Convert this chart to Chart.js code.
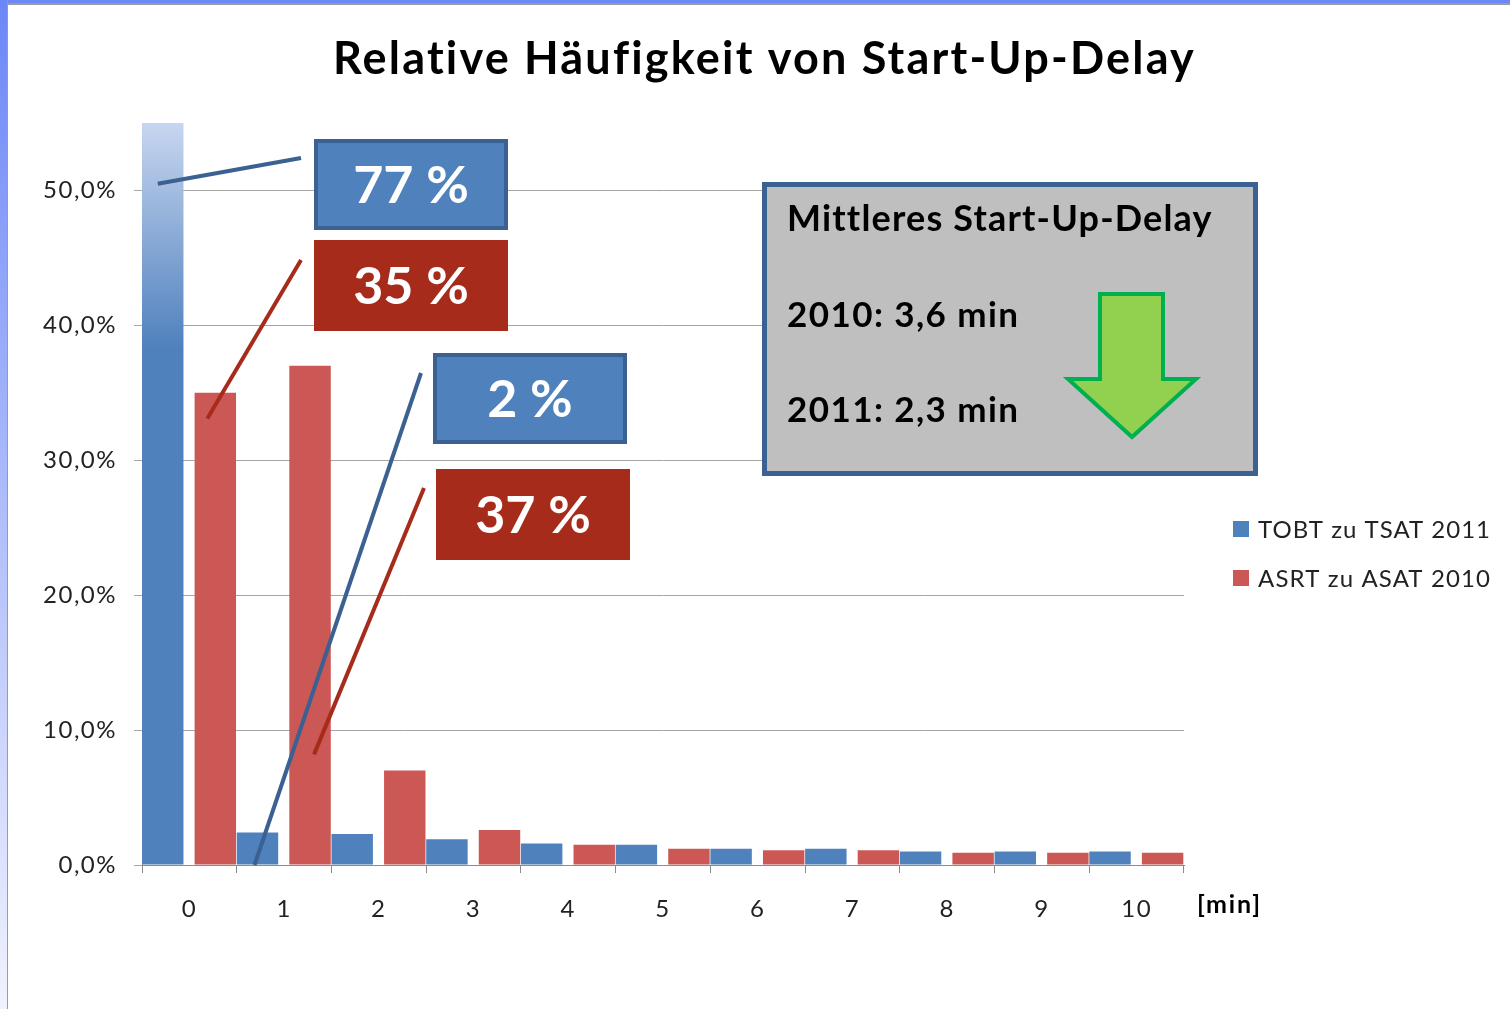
<!DOCTYPE html>
<html lang="de">
<head>
<meta charset="utf-8">
<title>Relative Häufigkeit von Start-Up-Delay</title>
<script src="https://cdn.jsdelivr.net/npm/chart.js@4.4.1/dist/chart.umd.min.js"></script>
<style>
  html, body { margin: 0; padding: 0; background: #fff; }
  #wrap { position: relative; width: 1510px; height: 1009px; overflow: hidden; background: #fff; }
  #frameTop { position: absolute; left: 0; top: 0; width: 1510px; height: 3px; background: #6c87f7; border-bottom: 2px solid #9c9c9c; z-index: 2; }
  #frameLeft { position: absolute; left: 0; top: 0; width: 7px; height: 1009px; background: linear-gradient(#6c87f7, #f0f2fe); border-right: 1px solid #9c9c9c; z-index: 2; }
  canvas { position: absolute; left: 0; top: 0; }
</style>
</head>
<body>
<div id="wrap">
  <div id="frameTop"></div>
  <div id="frameLeft"></div>
  <canvas id="delayChart" width="1510" height="1009"></canvas>
</div>
<script>
// Daten (Werte in %)
const minuten = ['0', '1', '2', '3', '4', '5', '6', '7', '8', '9', '10'];
const tobt2011 = [77, 2.4, 2.3, 1.9, 1.6, 1.5, 1.2, 1.2, 1.0, 1.0, 1.0];
const asrt2010 = [35, 37, 7.0, 2.6, 1.5, 1.2, 1.1, 1.1, 0.9, 0.9, 0.9];
const serienNamen = ['TOBT zu TSAT 2011', 'ASRT zu ASAT 2010'];
const yMax = 55;
const yStep = 10;
const mittelJahre = ['2010', '2011'];
const mittelWerte = ['3,6', '2,3'];

const blau = '#4f81bd';
const rot = '#cc5855';
const blauDunkel = '#3b6092';
const rotDunkel = '#a72b1b';
const schrift = 'Lato, "Open Sans", sans-serif';

// Balken 0 der blauen Serie ist abgeschnitten -> Verlauf nach oben heller
function blauFuellung(ctx) {
    if (ctx.dataIndex !== 0) return blau;
    const area = ctx.chart.chartArea;
    if (!area) return blau;
    const g = ctx.chart.ctx.createLinearGradient(0, area.top, 0, area.top + 225);
    g.addColorStop(0, '#c7d6f0');
    g.addColorStop(1, blau);
    return g;
}

// Text auf eine feste Breite bringen (Zeichenabstand anpassen)
function textMitBreite(ctx, text, x, y, breite) {
    ctx.letterSpacing = '0px';
    const w = ctx.measureText(text).width;
    ctx.letterSpacing = ((breite - w) / (text.length - 1)) + 'px';
    ctx.textAlign = 'left';
    ctx.fillText(text, x, y);
    ctx.letterSpacing = '0px';
}

// Balken wie im Original leicht versetzt (blau links, rot rechts)
const versatzPlugin = {
    id: 'versatz',
    afterDatasetsUpdate(chart) {
        const x = chart.scales.x;
        const breite = (x.right - x.left) / minuten.length;
        chart.getDatasetMeta(0).data.forEach(el => { el.x -= breite * 0.031; });
        chart.getDatasetMeta(1).data.forEach(el => { el.x += breite * 0.024; });
    },
    beforeDraw(chart) {
        // etwas breitere Achsenbeschriftung
        chart.ctx.letterSpacing = '1.5px';
    }
};

function box(ctx, x, y, w, h, fill, stroke, lw) {
    ctx.save();
    ctx.fillStyle = fill;
    ctx.fillRect(x, y, w, h);
    if (stroke) {
        ctx.strokeStyle = stroke;
        ctx.lineWidth = lw;
        ctx.strokeRect(x + lw / 2, y + lw / 2, w - lw, h - lw);
    }
    ctx.restore();
}

// Beschriftungen mit Linien zu den Balken
const callouts = [
    { ds: 0, i: 0, dx: -5, wert: 50.5, text: Math.round(tobt2011[0]) + ' %', fill: blau, rand: blauDunkel, rect: [314, 139, 194, 91], ende: [301, 158] },
    { ds: 1, i: 0, dx: -8, wert: 33.1, text: Math.round(asrt2010[0]) + ' %', fill: rotDunkel, rand: null, rect: [314, 240, 194, 91], ende: [301, 260] },
    { ds: 0, i: 1, dx: -3, wert: 0, text: Math.round(tobt2011[1]) + ' %', fill: blau, rand: blauDunkel, rect: [433, 353, 194, 91], ende: [421, 373] },
    { ds: 1, i: 1, dx: 4, wert: 8.2, text: Math.round(asrt2010[1]) + ' %', fill: rotDunkel, rand: null, rect: [436, 469, 194, 91], ende: [424, 488] }
];

const dekoPlugin = {
    id: 'deko',
    afterDatasetsDraw(chart) {
        const ctx = chart.ctx;
        const y = chart.scales.y;
        ctx.save();
        ctx.letterSpacing = '0px';

        callouts.forEach(c => {
            const bar = chart.getDatasetMeta(c.ds).data[c.i];
            ctx.save();
            ctx.strokeStyle = c.ds === 0 ? blauDunkel : rotDunkel;
            ctx.lineWidth = 4;
            ctx.beginPath();
            ctx.moveTo(bar.x + c.dx, y.getPixelForValue(c.wert));
            ctx.lineTo(c.ende[0], c.ende[1]);
            ctx.stroke();
            ctx.restore();

            const [bx, by, bw, bh] = c.rect;
            box(ctx, bx, by, bw, bh, c.fill, c.rand, 4);
            ctx.save();
            ctx.fillStyle = '#fff';
            ctx.font = 'bold 52px ' + schrift;
            ctx.textAlign = 'center';
            ctx.textBaseline = 'middle';
            ctx.fillText(c.text, bx + bw / 2, by + bh / 2 + 2);
            ctx.restore();
        });

        // Kasten mit mittlerem Delay
        box(ctx, 762, 182, 496, 294, '#bfbfbf', blauDunkel, 5);
        ctx.fillStyle = '#000';
        ctx.textBaseline = 'alphabetic';
        ctx.font = 'bold 36px ' + schrift;
        textMitBreite(ctx, 'Mittleres Start-Up-Delay', 787, 231, 423);
        ctx.font = 'bold 35px ' + schrift;
        mittelJahre.forEach((j, k) => {
            textMitBreite(ctx, j + ': ' + mittelWerte[k] + ' min', 787, 327 + k * 95, 231);
        });

        // gruener Pfeil nach unten
        ctx.beginPath();
        ctx.moveTo(1100, 294);
        ctx.lineTo(1163, 294);
        ctx.lineTo(1163, 379);
        ctx.lineTo(1196, 379);
        ctx.lineTo(1132, 437);
        ctx.lineTo(1068, 379);
        ctx.lineTo(1100, 379);
        ctx.closePath();
        ctx.fillStyle = '#92d050';
        ctx.fill();
        ctx.strokeStyle = '#00b050';
        ctx.lineWidth = 4;
        ctx.lineJoin = 'miter';
        ctx.stroke();
        ctx.restore();
    },
    afterDraw(chart) {
        const ctx = chart.ctx;
        ctx.save();
        ctx.fillStyle = '#000';

        // Titel
        ctx.textBaseline = 'alphabetic';
        ctx.font = 'bold 45px ' + schrift;
        textMitBreite(ctx, 'Relative Häufigkeit von Start-Up-Delay', 333, 74, 861);

        // Achsenbeschriftung
        ctx.font = 'bold 25px ' + schrift;
        textMitBreite(ctx, '[min]', 1197, 913, 63);

        // Legende
        const farben = [blau, rot];
        ctx.font = '24px ' + schrift;
        serienNamen.forEach((n, k) => {
            const ly = 529 + k * 49;
            ctx.fillStyle = farben[k];
            ctx.fillRect(1233, ly - 8, 16, 16);
            ctx.fillStyle = '#222';
            textMitBreite(ctx, n, 1258, ly + 9, 232);
        });
        ctx.restore();
    }
};

const ctx = document.getElementById('delayChart').getContext('2d');
const chart = new Chart(ctx, {
    type: 'bar',
    data: {
        labels: minuten,
        datasets: [{
            label: serienNamen[0],
            data: tobt2011,
            backgroundColor: blauFuellung,
            borderWidth: 0
        }, {
            label: serienNamen[1],
            data: asrt2010,
            backgroundColor: rot,
            borderWidth: 0
        }]
    },
    options: {
        responsive: false,
        animation: false,
        events: [],
        categoryPercentage: 1.0,
        barPercentage: 0.875,
        layout: {
            padding: { top: 123, right: 326, bottom: 0, left: 0 }
        },
        plugins: {
            legend: { display: false },
            title: { display: false },
            tooltip: { enabled: false }
        },
        scales: {
            x: {
                afterFit: s => { s.height = 144; },
                grid: {
                    offset: true,
                    drawOnChartArea: false,
                    tickLength: 8,
                    color: '#8c8c8c'
                },
                border: { color: '#8c8c8c', width: 1 },
                ticks: {
                    color: '#222',
                    font: { family: schrift, size: 24 },
                    padding: 22,
                    maxRotation: 0
                }
            },
            y: {
                min: 0,
                max: yMax,
                afterFit: s => { s.width = 142; },
                grid: {
                    color: '#a6a6a6',
                    tickLength: 8
                },
                border: { color: '#8c8c8c', width: 1 },
                ticks: {
                    stepSize: yStep,
                    includeBounds: false,
                    color: '#222',
                    padding: 17,
                    font: { family: schrift, size: 24 },
                    callback: v => v.toFixed(1).replace('.', ',') + '%'
                }
            }
        }
    },
    plugins: [versatzPlugin, dekoPlugin]
});
</script>
</body>
</html>
